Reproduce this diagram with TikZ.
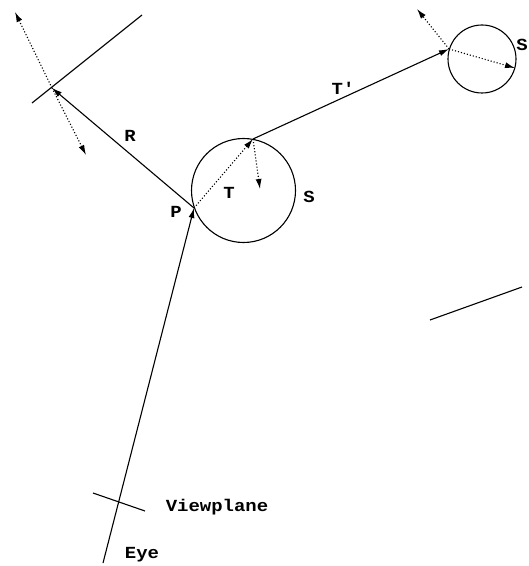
\documentclass[tikz,border=0pt]{standalone}
\usepackage{fontspec}
\setmonofont[FakeStretch=1.12]{Liberation Mono}
\usetikzlibrary{arrows.meta}
\begin{document}
\begin{tikzpicture}[x=1bp, y=-1bp, line width=1.1bp,
  every node/.style={font=\ttfamily\bfseries\fontsize{17}{20}\selectfont},
  ray/.style={-{Latex[length=10bp,width=6bp]}},
  dray/.style={ray, dotted}]
  \useasboundingbox (0,0) rectangle (529,566);
  \coordinate (eye) at (103,563); \coordinate (P) at (194,208);
  \coordinate (v1) at (93,493); \coordinate (v2) at (145,511);
  \coordinate (M) at (52,88); \coordinate (m1) at (32,103); \coordinate (m2) at (142,15);
  \coordinate (d1) at (15,12); \coordinate (d2) at (86,155);
  \coordinate (Q) at (253,139); \coordinate (q) at (260,189);
  \coordinate (E) at (449,49); \coordinate (e1) at (417,9); \coordinate (e2) at (515,68);
  \coordinate (w1) at (430,320); \coordinate (w2) at (522,287);
  \draw (243.5,190.5) circle (52); \draw (482,59) circle (34);
  \draw (m1)--(m2); \draw (v1)--(v2); \draw (w1)--(w2);
  \draw[ray] (eye)--(P); \draw[ray] (P)--(M); \draw[ray] (Q)--(E);
  \draw[dray] (P)--(Q); \draw[dray] (Q)--(q);
  \draw[dray] (M)--(d1); \draw[dray] (M)--(d2);
  \draw[dray] (E)--(e1); \draw[dray] (E)--(e2);
  \node at (130,136) {R};
  \node at (176,212) {P};
  \node at (229,193) {T};
  \node at (309,197) {S};
  \node at (343,88) {T'};
  \node at (522,45) {S};
  \node at (217,507) {Viewplane};
  \node at (142,555) {Eye};
\end{tikzpicture}
\end{document}
